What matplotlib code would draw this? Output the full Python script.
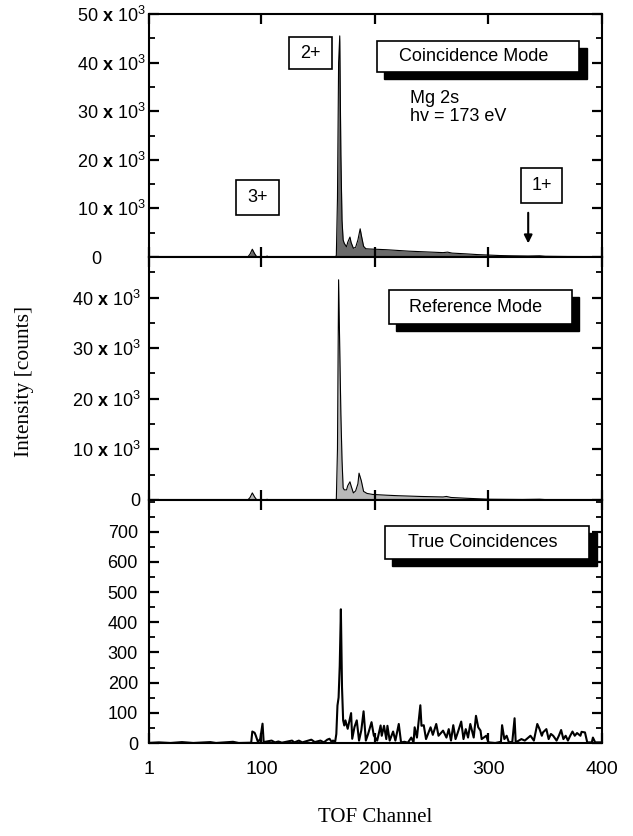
import numpy as np
import matplotlib
matplotlib.use("Agg")
import matplotlib.pyplot as plt
from matplotlib.patches import Rectangle
from matplotlib.ticker import MultipleLocator
from matplotlib.transforms import blended_transform_factory

plt.rcParams.update(
    {
        "font.family": "Liberation Sans",
        "font.size": 13,
        "mathtext.fontset": "custom",
        "mathtext.rm": "Liberation Sans",
        "mathtext.bf": "Liberation Sans:bold",
        "axes.linewidth": 1.5,
    }
)

# --- data ---------------------------------------------------------------
x_ticks = [1, 100, 200, 300, 400]

# Coincidence mode (top panel)
coin_chan = [1, 88, 90, 92, 94, 96, 104, 105, 106,
             165, 166, 167, 168, 169, 170, 171, 172, 173,
             175, 176, 178, 179, 181, 183, 185, 187, 188, 190,
             192, 195, 200, 210, 220, 230, 240, 250, 260, 264,
             268, 280, 290, 300, 310, 320, 335, 345, 350, 370,
             400]
coin_counts = [0, 0, 600, 1600, 700, 0, 0, 200, 0,
               0, 300, 12000, 40000, 45500, 21000, 7600, 3500, 2800,
               2100, 3000, 4100, 3000, 1800, 2000, 3500, 5800, 4500, 2200,
               1700, 1650, 1600, 1500, 1350, 1200, 1100, 1000, 900, 1000,
               800, 650, 500, 400, 300, 250, 200, 250, 150, 100,
               80]

# Reference mode (middle panel)
ref_chan = [1, 88, 90, 92, 94, 96, 104, 105, 106,
            165, 166, 167, 168, 169, 170, 171, 172, 173,
            175, 176, 178, 179, 181, 183, 185, 186, 188, 190,
            193, 198, 210, 220, 240, 260, 263, 267, 280, 290,
            300, 330, 345, 350, 400]
ref_counts = [0, 0, 500, 1400, 600, 0, 0, 150, 0,
              0, 200, 10000, 43500, 30000, 17000, 8000, 2400, 2000,
              2000, 2800, 3600, 2800, 1400, 1800, 3200, 5300, 3800, 1700,
              1300, 1100, 950, 850, 700, 600, 700, 500, 350, 250,
              150, 100, 150, 80, 50]

# True coincidences (bottom panel)
true_chan = [1, 10, 20, 30, 40, 55, 60, 75, 80, 91,
             92, 94, 95, 97, 99, 101, 102, 109, 112, 115,
             118, 127, 129, 133, 136, 144, 147, 152, 155, 158,
             160, 162, 163, 165, 166, 167, 168, 169, 170, 171,
             172, 173, 174, 176, 177, 179, 180, 182, 184, 186,
             188, 190, 192, 194, 197, 199, 202, 205, 206, 208,
             210, 211, 213, 216, 218, 221, 223, 226, 229, 232,
             234, 235, 237, 240, 241, 243, 245, 249, 251, 254,
             256, 260, 263, 265, 267, 269, 271, 273, 276, 278,
             280, 282, 284, 287, 289, 291, 293, 294, 298, 300,
             306, 311, 312, 314, 316, 318, 321, 323, 324, 329,
             332, 337, 340, 343, 345, 347, 348, 351, 353, 355,
             357, 360, 362, 364, 366, 368, 370, 372, 374, 376,
             378, 381, 382, 385, 387, 391, 392, 394, 400]
true_counts = [0, 2, 0, 3, 0, 3, 0, 4, 0, 1,
               38, 34, 25, 3, 14, 64, 3, 8, 2, 5,
               1, 8, 2, 8, 2, 11, 3, 8, 2, 11,
               14, 3, 8, 5, 30, 124, 151, 256, 443, 185,
               75, 58, 75, 47, 64, 99, 14, 53, 75, 8,
               42, 105, 8, 30, 69, 25, 8, 58, 24, 57,
               13, 57, 8, 38, 8, 63, 2, 4, 1, 18,
               2, 52, 18, 125, 57, 59, 13, 52, 27, 63,
               24, 41, 18, 46, 8, 59, 13, 35, 71, 13,
               46, 18, 63, 18, 90, 52, 41, 13, 24, 2,
               0, 4, 59, 13, 24, 2, 4, 82, 2, 13,
               8, 24, 8, 63, 46, 24, 35, 46, 13, 30,
               24, 8, 24, 43, 13, 24, 8, 24, 38, 24,
               33, 24, 37, 35, 2, 2, 18, 2, 2]

top_yticks = [0, 10000, 20000, 30000, 40000, 50000]
top_ylabels = ["0", "10 $\\mathbf{x}$ 10$^3$", "20 $\\mathbf{x}$ 10$^3$",
               "30 $\\mathbf{x}$ 10$^3$", "40 $\\mathbf{x}$ 10$^3$",
               "50 $\\mathbf{x}$ 10$^3$"]
mid_yticks = [0, 10000, 20000, 30000, 40000]
mid_ylabels = ["0", "10 $\\mathbf{x}$ 10$^3$", "20 $\\mathbf{x}$ 10$^3$",
               "30 $\\mathbf{x}$ 10$^3$", "40 $\\mathbf{x}$ 10$^3$"]
bot_yticks = [0, 100, 200, 300, 400, 500, 600, 700]


def style_axes(ax, minor_step, pad):
    ax.set_xlim(1, 400)
    ax.set_xticks(x_ticks)
    ax.yaxis.set_minor_locator(MultipleLocator(minor_step))
    ax.tick_params(which="both", direction="in", top=True, right=True)
    ax.tick_params(which="major", length=7, width=1.6)
    ax.tick_params(which="minor", length=4.5, width=1.3)
    ax.tick_params(axis="y", pad=pad)
    ax.tick_params(axis="x", labelbottom=False)


def label_box(ax, x0, y0, x1, y1, text, shadow=False):
    shift = 0.0
    if shadow:
        shift = 0.01
        ax.add_patch(Rectangle((x0 + 0.016, y0 - 0.029), x1 - x0, y1 - y0,
                               transform=ax.transAxes, facecolor="black",
                               edgecolor="black", zorder=5, clip_on=False))
    ax.add_patch(Rectangle((x0, y0), x1 - x0, y1 - y0, transform=ax.transAxes,
                           facecolor="white", edgecolor="black", lw=1.2,
                           zorder=6, clip_on=False))
    ax.text((x0 + x1) / 2 - shift, (y0 + y1) / 2, text, transform=ax.transAxes,
            ha="center", va="center", zorder=7)


fig = plt.figure(figsize=(6.33, 8.36), dpi=100)
left, width, height = 149 / 633, 453 / 633, 243 / 836
ax_top = fig.add_axes([left, 1 - 257 / 836, width, height])
ax_mid = fig.add_axes([left, 1 - 500 / 836, width, height])
ax_bot = fig.add_axes([left, 1 - 743 / 836, width, height])

# top panel
ax_top.fill_between(coin_chan, coin_counts, color="#6a6a6a", lw=0)
ax_top.plot(coin_chan, coin_counts, color="black", lw=0.8)
ax_top.set_ylim(0, 50000)
ax_top.set_yticks(top_yticks)
ax_top.set_yticklabels([""] + top_ylabels[1:])
style_axes(ax_top, 5000, 2)
ax_top.text(-0.106, 0, top_ylabels[0],
            transform=blended_transform_factory(ax_top.transAxes, ax_top.transData),
            ha="right", va="center_baseline")
label_box(ax_top, 0.309, 0.774, 0.404, 0.905, "2+")
label_box(ax_top, 0.192, 0.173, 0.288, 0.316, "3+")
label_box(ax_top, 0.821, 0.223, 0.912, 0.365, "1+")
label_box(ax_top, 0.503, 0.760, 0.950, 0.890, "Coincidence Mode", shadow=True)
ax_top.text(0.576, 0.652, "Mg 2s", transform=ax_top.transAxes, ha="left", va="center")
ax_top.text(0.576, 0.578, "hv = 173 eV", transform=ax_top.transAxes, ha="left", va="center")
ax_top.annotate("", xy=(335, 2800), xytext=(335, 9100),
                arrowprops=dict(arrowstyle="-|>", color="black", lw=1.5,
                                mutation_scale=12, shrinkA=0, shrinkB=0))

# middle panel
ax_mid.fill_between(ref_chan, ref_counts, color="#b9b9b9", lw=0)
ax_mid.plot(ref_chan, ref_counts, color="black", lw=0.8)
ax_mid.set_ylim(0, 48000)
ax_mid.set_yticks(mid_yticks)
ax_mid.set_yticklabels(mid_ylabels)
style_axes(ax_mid, 5000, 6)
label_box(ax_mid, 0.530, 0.724, 0.933, 0.864, "Reference Mode", shadow=True)

# bottom panel
ax_bot.plot(true_chan, true_counts, color="black", lw=1.5)
ax_bot.set_ylim(0, 805)
ax_bot.set_yticks(bot_yticks)
style_axes(ax_bot, 50, 8)
ax_bot.tick_params(axis="x", labelbottom=True, pad=13, labelsize=14)
label_box(ax_bot, 0.521, 0.756, 0.972, 0.893, "True Coincidences", shadow=True)

fig.text(25 / 633, 1 - 381 / 836, "Intensity [counts]", rotation=90,
         ha="center", va="center", family="Liberation Serif", fontsize=15.5)
fig.text(375 / 633, 1 - 818 / 836, "TOF Channel", ha="center", va="center",
         family="Liberation Serif", fontsize=15)

fig.savefig("out.png", dpi=100)
